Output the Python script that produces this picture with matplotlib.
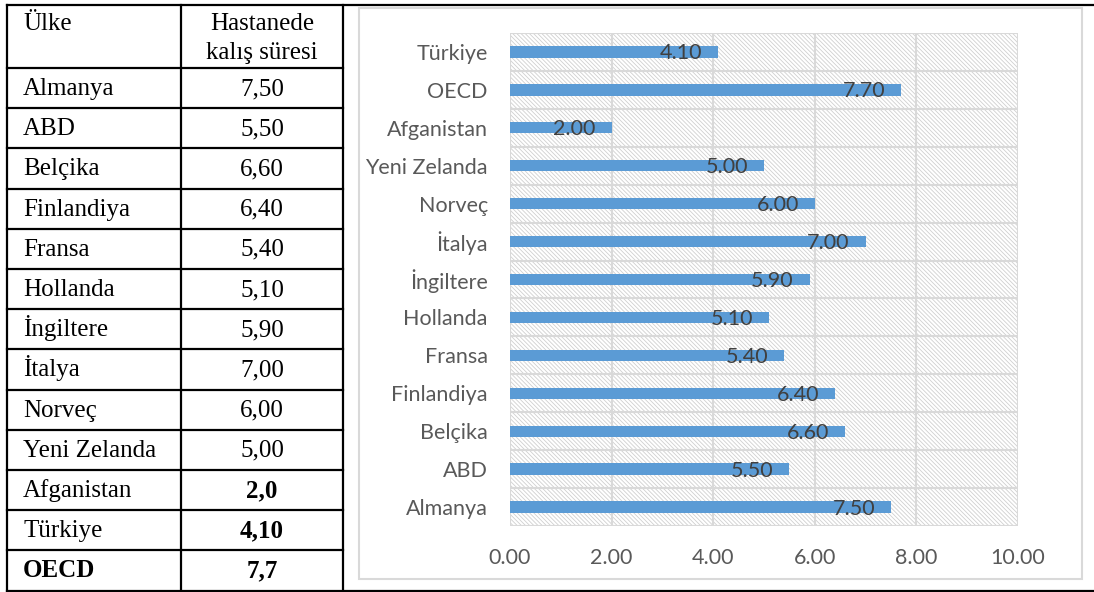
import matplotlib
matplotlib.use("Agg")
import matplotlib.pyplot as plt
from matplotlib.patches import Rectangle

# table data (left side)
tablo_ulke = ["Almanya", "ABD", "Belçika", "Finlandiya", "Fransa", "Hollanda",
              "İngiltere", "İtalya", "Norveç", "Yeni Zelanda", "Afganistan",
              "Türkiye", "OECD"]
tablo_deger = ["7,50", "5,50", "6,60", "6,40", "5,40", "5,10", "5,90", "7,00",
               "6,00", "5,00", "2,0", "4,10", "7,7"]
kalin_ulke = ["OECD"]
kalin_deger = ["Afganistan", "Türkiye", "OECD"]

# chart data (bottom to top)
ulkeler = ["Almanya", "ABD", "Belçika", "Finlandiya", "Fransa", "Hollanda",
           "İngiltere", "İtalya", "Norveç", "Yeni Zelanda", "Afganistan",
           "OECD", "Türkiye"]
sureler = [7.50, 5.50, 6.60, 6.40, 5.40, 5.10, 5.90, 7.00, 6.00, 5.00, 2.00,
           7.70, 4.10]
xticks = [0, 2, 4, 6, 8, 10]

W, H = 1094, 592
fig = plt.figure(figsize=(W / 100, H / 100), dpi=100)

# ---- table drawn in pixel coordinates
tab = fig.add_axes([0, 0, 1, 1], zorder=0)
tab.set_xlim(0, W)
tab.set_ylim(H, 0)
tab.axis("off")

x_left, x_mid, x_right = 7, 181, 343
y_top, y_head, row_h = 5, 68, 40.2
n = len(tablo_ulke)
y_bot = y_head + n * row_h
lw = 1.6

tab.plot([x_left, W], [y_top, y_top], color="black", lw=lw)
tab.plot([x_left, W], [y_bot, y_bot], color="black", lw=lw)
for xv in [x_left, x_mid, x_right]:
    tab.plot([xv, xv], [y_top, y_bot], color="black", lw=lw)
for i in range(n):
    yv = y_head + i * row_h
    tab.plot([x_left, x_right], [yv, yv], color="black", lw=lw)

serif = "Liberation Serif"
fs = 18
cx = (x_mid + x_right) / 2
tab.text(23, 30, "Ülke", family=serif, fontsize=fs, va="baseline")
tab.text(cx, 30, "Hastanede", family=serif, fontsize=fs, va="baseline", ha="center")
tab.text(cx, 59, "kalış süresi", family=serif, fontsize=fs, va="baseline", ha="center")
for i, (u, d) in enumerate(zip(tablo_ulke, tablo_deger)):
    yb = y_head + i * row_h + 27
    tab.text(23, yb, u, family=serif, fontsize=fs, va="baseline",
             weight="bold" if u in kalin_ulke else "normal")
    tab.text(cx, yb, d, family=serif, fontsize=fs, va="baseline", ha="center",
             weight="bold" if u in kalin_deger else "normal")

# chart area border
tab.add_patch(Rectangle((359, 8), 1082 - 359, 579 - 8, fill=False,
                        edgecolor="#d9d9d9", lw=1.5))

# ---- bar chart
plt.rcParams["hatch.linewidth"] = 0.6
ax = fig.add_axes([510 / W, 1 - 526 / H, (1018 - 510) / W, (526 - 33) / H], zorder=2)
ax.patch.set_alpha(0)
ypos = list(range(len(ulkeler)))

ax.add_patch(Rectangle((0, -0.5), 10, len(ulkeler), facecolor="white",
                       edgecolor="#d0d0d0", hatch="\\" * 8, lw=0, zorder=0))
for xv in xticks:
    ax.axvline(xv, color="#d9d9d9", lw=1.5, zorder=1)
for k in range(len(ulkeler) + 1):
    ax.axhline(k - 0.5, color="#d9d9d9", lw=1.5, zorder=1)

ax.barh(ypos, sureler, height=0.3, color="#5b9bd5", zorder=2)
for y, v in zip(ypos, sureler):
    ax.annotate(f"{v:.2f}", (v, y), xytext=(-16, -1.5), textcoords="offset pixels",
                ha="right", va="center", fontsize=15.5, family="Lato",
                color="#404040", zorder=3)

ax.set_xlim(0, 10)
ax.set_ylim(-0.5, len(ulkeler) - 0.5)
ax.set_xticks(xticks)
ax.set_xticklabels([f"{x:.2f}" for x in xticks])
ax.set_yticks(ypos)
ax.set_yticklabels(ulkeler)
for s in ax.spines.values():
    s.set_visible(False)
ax.tick_params(length=0, labelsize=15.5, labelcolor="#595959")
ax.tick_params(axis="x", pad=16)
ax.tick_params(axis="y", pad=16)
for lab in ax.get_xticklabels() + ax.get_yticklabels():
    lab.set_family("Lato")

fig.savefig("out.png", dpi=100)
